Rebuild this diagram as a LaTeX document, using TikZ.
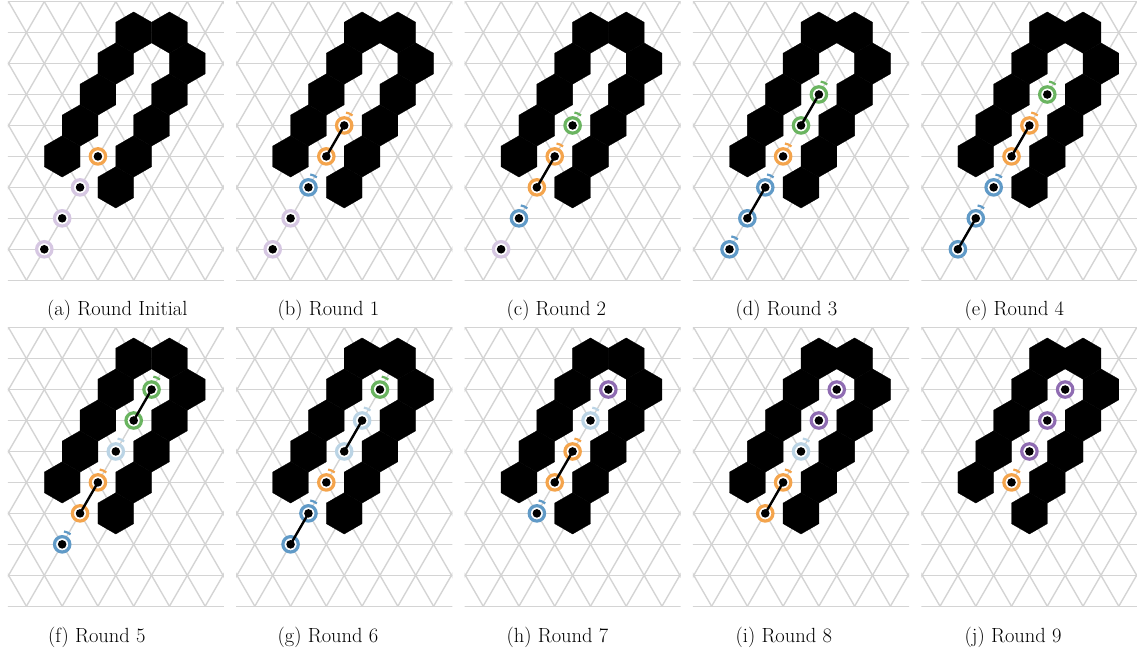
\documentclass[tikz,border=0pt]{standalone}
\usepackage{tikz}
\definecolor{gridgray}{RGB}{212,212,212}
\definecolor{plav}{RGB}{214,199,226}
\definecolor{porange}{RGB}{244,164,76}
\definecolor{pblue}{RGB}{96,154,199}
\definecolor{pgreen}{RGB}{106,180,96}
\definecolor{plblue}{RGB}{187,212,229}
\definecolor{ppurple}{RGB}{143,108,178}
\tikzset{
  gridline/.style={draw=gridgray, line width=1.4pt},
  hexcell/.style={fill=black, draw=black, line width=0.3pt},
  ring/.style={circle, draw=#1, line width=3.2pt, fill=white, minimum size=15.4pt, inner sep=0pt},
  core/.style={circle, fill=black, minimum size=8.6pt, inner sep=0pt},
  tickarc/.style={draw=#1, line width=2.2pt},
  link/.style={draw=black, line width=2.4pt},
  capt/.style={font=\fontsize{20.5}{24}\selectfont, anchor=base west, inner sep=0pt},
}
\newcommand\panelbg{%
  \begin{scope}
    \clip ([shift={(-0.8pt,-0.8pt)}]-1,-1) rectangle ([shift={(0.8pt,0.8pt)}]5,8);
    \foreach \r in {-1,...,8} \draw[gridline] (-1.2,\r) -- (5.2,\r);
    \foreach \c in {-6,...,6} \draw[gridline] ({\c-0.5},-1) -- ({\c+4},8);
    \foreach \m in {-1,...,10} \draw[gridline] ({\m+0.5},-1) -- ({\m-4},8);
  \end{scope}
  \foreach \q/\r in {-1/3,-1/4,-1/5,-1/6,-1/7,0/7,1/6,1/5,1/4,1/3,1/2}
    \filldraw[hexcell] ({\q+\r/2},\r) ++(90:20.64pt) -- ++(210:20.64pt) -- ++(270:20.64pt) -- ++(330:20.64pt) -- ++(30:20.64pt) -- ++(90:20.64pt) -- cycle;
}
% particle ring: name, row, colour, tick
\newcommand\ptc[4]{%
  \node[ring=#3] (#1) at ({#2/2},#2) {};
  \ifnum#4=1 \draw[tickarc=#3] ([shift={(50:13pt)}]#1.center) arc[start angle=50,end angle=82,radius=13pt];\fi
}
\newcommand\cores[1]{\foreach \n in {#1} \node[core] (c\n) at (\n.center) {};}
\begin{document}
\begin{tikzpicture}
\useasboundingbox (0pt,0pt) rectangle (1137pt,655pt);
% (a)
\begin{scope}[shift={(44.3pt,405.7pt)}, x=35.75pt, y=30.96pt]
  \panelbg
  \ptc{a0}{0}{plav}{0}\ptc{a1}{1}{plav}{0}\ptc{a2}{2}{plav}{0}\ptc{a3}{3}{porange}{0}
  \cores{a0,a1,a2,a3}
\end{scope}
% (b)
\begin{scope}[shift={(272.7pt,405.7pt)}, x=35.75pt, y=30.96pt]
  \panelbg
  \ptc{b0}{0}{plav}{0}\ptc{b1}{1}{plav}{0}\ptc{b2}{2}{pblue}{1}\ptc{b3}{3}{porange}{0}\ptc{b4}{4}{porange}{1}
  \draw[link] (b3.center) -- (b4.center);
  \cores{b0,b1,b2,b3,b4}
\end{scope}
% (c)
\begin{scope}[shift={(501.1pt,405.7pt)}, x=35.75pt, y=30.96pt]
  \panelbg
  \ptc{c0}{0}{plav}{0}\ptc{c1}{1}{pblue}{1}\ptc{c2}{2}{porange}{0}\ptc{c3}{3}{porange}{1}\ptc{c4}{4}{pgreen}{1}
  \draw[link] (c2.center) -- (c3.center);
  \cores{c0,c1,c2,c3,c4}
\end{scope}
% (d)
\begin{scope}[shift={(729.5pt,405.7pt)}, x=35.75pt, y=30.96pt]
  \panelbg
  \ptc{d0}{0}{pblue}{1}\ptc{d1}{1}{pblue}{0}\ptc{d2}{2}{pblue}{1}\ptc{d3}{3}{porange}{1}\ptc{d4}{4}{pgreen}{0}\ptc{d5}{5}{pgreen}{1}
  \draw[link] (d1.center) -- (d2.center);
  \draw[link] (d4.center) -- (d5.center);
  \cores{d0,d1,d2,d3,d4,d5}
\end{scope}
% (e)
\begin{scope}[shift={(957.9pt,405.7pt)}, x=35.75pt, y=30.96pt]
  \panelbg
  \ptc{e0}{0}{pblue}{0}\ptc{e1}{1}{pblue}{1}\ptc{e2}{2}{pblue}{1}\ptc{e3}{3}{porange}{0}\ptc{e4}{4}{porange}{1}\ptc{e5}{5}{pgreen}{1}
  \draw[link] (e0.center) -- (e1.center);
  \draw[link] (e3.center) -- (e4.center);
  \cores{e0,e1,e2,e3,e4,e5}
\end{scope}
% (f)
\begin{scope}[shift={(44.3pt,79.7pt)}, x=35.75pt, y=30.96pt]
  \panelbg
  \ptc{f1}{1}{pblue}{1}\ptc{f2}{2}{porange}{0}\ptc{f3}{3}{porange}{1}\ptc{f4}{4}{plblue}{1}\ptc{f5}{5}{pgreen}{0}\ptc{f6}{6}{pgreen}{1}
  \draw[link] (f2.center) -- (f3.center);
  \draw[link] (f5.center) -- (f6.center);
  \cores{f1,f2,f3,f4,f5,f6}
\end{scope}
% (g)
\begin{scope}[shift={(272.7pt,79.7pt)}, x=35.75pt, y=30.96pt]
  \panelbg
  \ptc{g1}{1}{pblue}{0}\ptc{g2}{2}{pblue}{1}\ptc{g3}{3}{porange}{1}\ptc{g4}{4}{plblue}{0}\ptc{g5}{5}{plblue}{1}\ptc{g6}{6}{pgreen}{1}
  \draw[link] (g1.center) -- (g2.center);
  \draw[link] (g4.center) -- (g5.center);
  \cores{g1,g2,g3,g4,g5,g6}
\end{scope}
% (h)
\begin{scope}[shift={(501.1pt,79.7pt)}, x=35.75pt, y=30.96pt]
  \panelbg
  \ptc{h2}{2}{pblue}{1}\ptc{h3}{3}{porange}{0}\ptc{h4}{4}{porange}{1}\ptc{h5}{5}{plblue}{1}\ptc{h6}{6}{ppurple}{0}
  \draw[link] (h3.center) -- (h4.center);
  \cores{h2,h3,h4,h5,h6}
\end{scope}
% (i)
\begin{scope}[shift={(729.5pt,79.7pt)}, x=35.75pt, y=30.96pt]
  \panelbg
  \ptc{i2}{2}{porange}{0}\ptc{i3}{3}{porange}{1}\ptc{i4}{4}{plblue}{1}\ptc{i5}{5}{ppurple}{0}\ptc{i6}{6}{ppurple}{0}
  \draw[link] (i2.center) -- (i3.center);
  \cores{i2,i3,i4,i5,i6}
\end{scope}
% (j)
\begin{scope}[shift={(957.9pt,79.7pt)}, x=35.75pt, y=30.96pt]
  \panelbg
  \ptc{j3}{3}{porange}{1}\ptc{j4}{4}{ppurple}{0}\ptc{j5}{5}{ppurple}{0}\ptc{j6}{6}{ppurple}{0}
  \cores{j3,j4,j5,j6}
\end{scope}
% captions
\node[capt] (capa) at (47pt,339pt) {(a) Round Initial};
\node[capt] (capb) at (277.5pt,339pt) {(b) Round 1};
\node[capt] (capc) at (506.5pt,339pt) {(c) Round 2};
\node[capt] (capd) at (735.5pt,339pt) {(d) Round 3};
\node[capt] (cape) at (964.5pt,339pt) {(e) Round 4};
\node[capt] (capf) at (48pt,12pt) {(f) Round 5};
\node[capt] (capg) at (277.5pt,12pt) {(g) Round 6};
\node[capt] (caph) at (506.5pt,12pt) {(h) Round 7};
\node[capt] (capi) at (735.5pt,12pt) {(i) Round 8};
\node[capt] (capj) at (964.5pt,12pt) {(j) Round 9};
\end{tikzpicture}
\end{document}
